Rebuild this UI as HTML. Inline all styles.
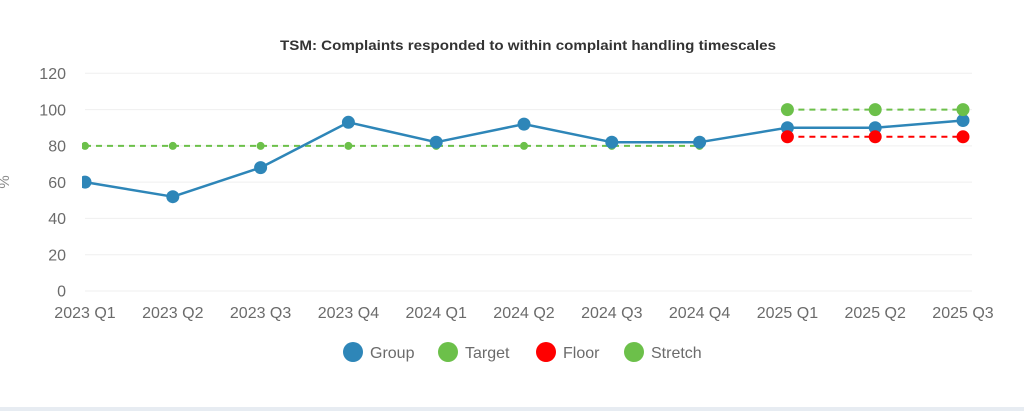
<!DOCTYPE html>
<html>
<head>
<meta charset="utf-8">
<style>
html,body{margin:0;padding:0;background:#fff;}
body{width:1024px;height:411px;overflow:hidden;position:relative;}
svg{position:absolute;left:0;top:0;}
text{font-family:"Liberation Sans",sans-serif;}
</style>
</head>
<body>
<svg width="1024" height="411" viewBox="0 0 1024 411" xmlns="http://www.w3.org/2000/svg">
  <defs>
    <clipPath id="plot"><rect x="82" y="60" width="900" height="240"/></clipPath>
  </defs>
  <rect x="0" y="0" width="1024" height="411" fill="#fff"/>
  <!-- title -->
  <text x="528" y="50" text-anchor="middle" font-size="14" font-weight="bold" fill="#333" textLength="496" lengthAdjust="spacingAndGlyphs">TSM: Complaints responded to within complaint handling timescales</text>

  <!-- gridlines -->
  <g stroke="#efefef" stroke-width="1">
    <line x1="85" y1="73.3" x2="972" y2="73.3"/>
    <line x1="85" y1="109.6" x2="972" y2="109.6"/>
    <line x1="85" y1="145.9" x2="972" y2="145.9"/>
    <line x1="85" y1="182.1" x2="972" y2="182.1"/>
    <line x1="85" y1="218.4" x2="972" y2="218.4"/>
    <line x1="85" y1="254.7" x2="972" y2="254.7"/>
    <line x1="85" y1="291" x2="972" y2="291"/>
  </g>

  <!-- y labels -->
  <g font-size="16" fill="#6b6b6b" text-anchor="end">
    <text x="66" y="79">120</text>
    <text x="66" y="115.3">100</text>
    <text x="66" y="151.6">80</text>
    <text x="66" y="187.8">60</text>
    <text x="66" y="224.1">40</text>
    <text x="66" y="260.4">20</text>
    <text x="66" y="296.5">0</text>
  </g>
  <text transform="translate(9,182) rotate(-90)" text-anchor="middle" font-size="15" fill="#8a8a8a">%</text>

  <!-- x labels -->
  <g font-size="16" fill="#6b6b6b" text-anchor="middle">
    <text x="85" y="318">2023 Q1</text>
    <text x="172.8" y="318">2023 Q2</text>
    <text x="260.6" y="318">2023 Q3</text>
    <text x="348.4" y="318">2023 Q4</text>
    <text x="436.2" y="318">2024 Q1</text>
    <text x="524" y="318">2024 Q2</text>
    <text x="611.8" y="318">2024 Q3</text>
    <text x="699.6" y="318">2024 Q4</text>
    <text x="787.4" y="318">2025 Q1</text>
    <text x="875.2" y="318">2025 Q2</text>
    <text x="963" y="318">2025 Q3</text>
  </g>

  <g clip-path="url(#plot)">
    <!-- target -->
    <polyline points="85,145.9 699.6,145.9" fill="none" stroke="#6cc04a" stroke-width="2" stroke-dasharray="6,5"/>
    <g fill="#6cc04a">
      <circle cx="85" cy="145.9" r="4"/>
      <circle cx="172.8" cy="145.9" r="4"/>
      <circle cx="260.6" cy="145.9" r="4"/>
      <circle cx="348.4" cy="145.9" r="4"/>
      <circle cx="436.2" cy="145.9" r="4"/>
      <circle cx="524" cy="145.9" r="4"/>
      <circle cx="611.8" cy="145.9" r="4"/>
      <circle cx="699.6" cy="145.9" r="4"/>
    </g>

    <!-- group -->
    <polyline points="85,182.1 172.8,196.7 260.6,167.6 348.4,122.3 436.2,142.2 524,124.1 611.8,142.2 699.6,142.2 787.4,127.7 875.2,127.7 963,120.5" fill="none" stroke="#2e86b8" stroke-width="2.5" stroke-linejoin="round"/>
    <g fill="#2e86b8">
      <circle cx="85" cy="182.1" r="6.5"/>
      <circle cx="172.8" cy="196.7" r="6.5"/>
      <circle cx="260.6" cy="167.6" r="6.5"/>
      <circle cx="348.4" cy="122.3" r="6.5"/>
      <circle cx="436.2" cy="142.2" r="6.5"/>
      <circle cx="524" cy="124.1" r="6.5"/>
      <circle cx="611.8" cy="142.2" r="6.5"/>
      <circle cx="699.6" cy="142.2" r="6.5"/>
      <circle cx="787.4" cy="127.7" r="6.5"/>
      <circle cx="875.2" cy="127.7" r="6.5"/>
      <circle cx="963" cy="120.5" r="6.5"/>
    </g>

    <!-- floor -->
    <polyline points="787.4,136.8 963,136.8" fill="none" stroke="#ff0000" stroke-width="2" stroke-dasharray="6,5"/>
    <g fill="#ff0000">
      <circle cx="787.4" cy="136.8" r="6.5"/>
      <circle cx="875.2" cy="136.8" r="6.5"/>
      <circle cx="963" cy="136.8" r="6.5"/>
    </g>

    <!-- stretch -->
    <polyline points="787.4,109.6 963,109.6" fill="none" stroke="#6cc04a" stroke-width="2" stroke-dasharray="6,5"/>
    <g fill="#6cc04a">
      <circle cx="787.4" cy="109.6" r="6.5"/>
      <circle cx="875.2" cy="109.6" r="6.5"/>
      <circle cx="963" cy="109.6" r="6.5"/>
    </g>
  </g>

  <!-- legend -->
  <g font-size="16" fill="#6b6b6b">
    <circle cx="353" cy="352" r="10" fill="#2e86b8"/>
    <text x="370" y="358">Group</text>
    <circle cx="448" cy="352" r="10" fill="#6cc04a"/>
    <text x="465" y="358">Target</text>
    <circle cx="546" cy="352" r="10" fill="#ff0000"/>
    <text x="563" y="358">Floor</text>
    <circle cx="634" cy="352" r="10" fill="#6cc04a"/>
    <text x="651" y="358">Stretch</text>
  </g>

  <!-- bottom band -->
  <rect x="0" y="407" width="1024" height="4" fill="#e7ecf2"/>
</svg>
</body>
</html>
